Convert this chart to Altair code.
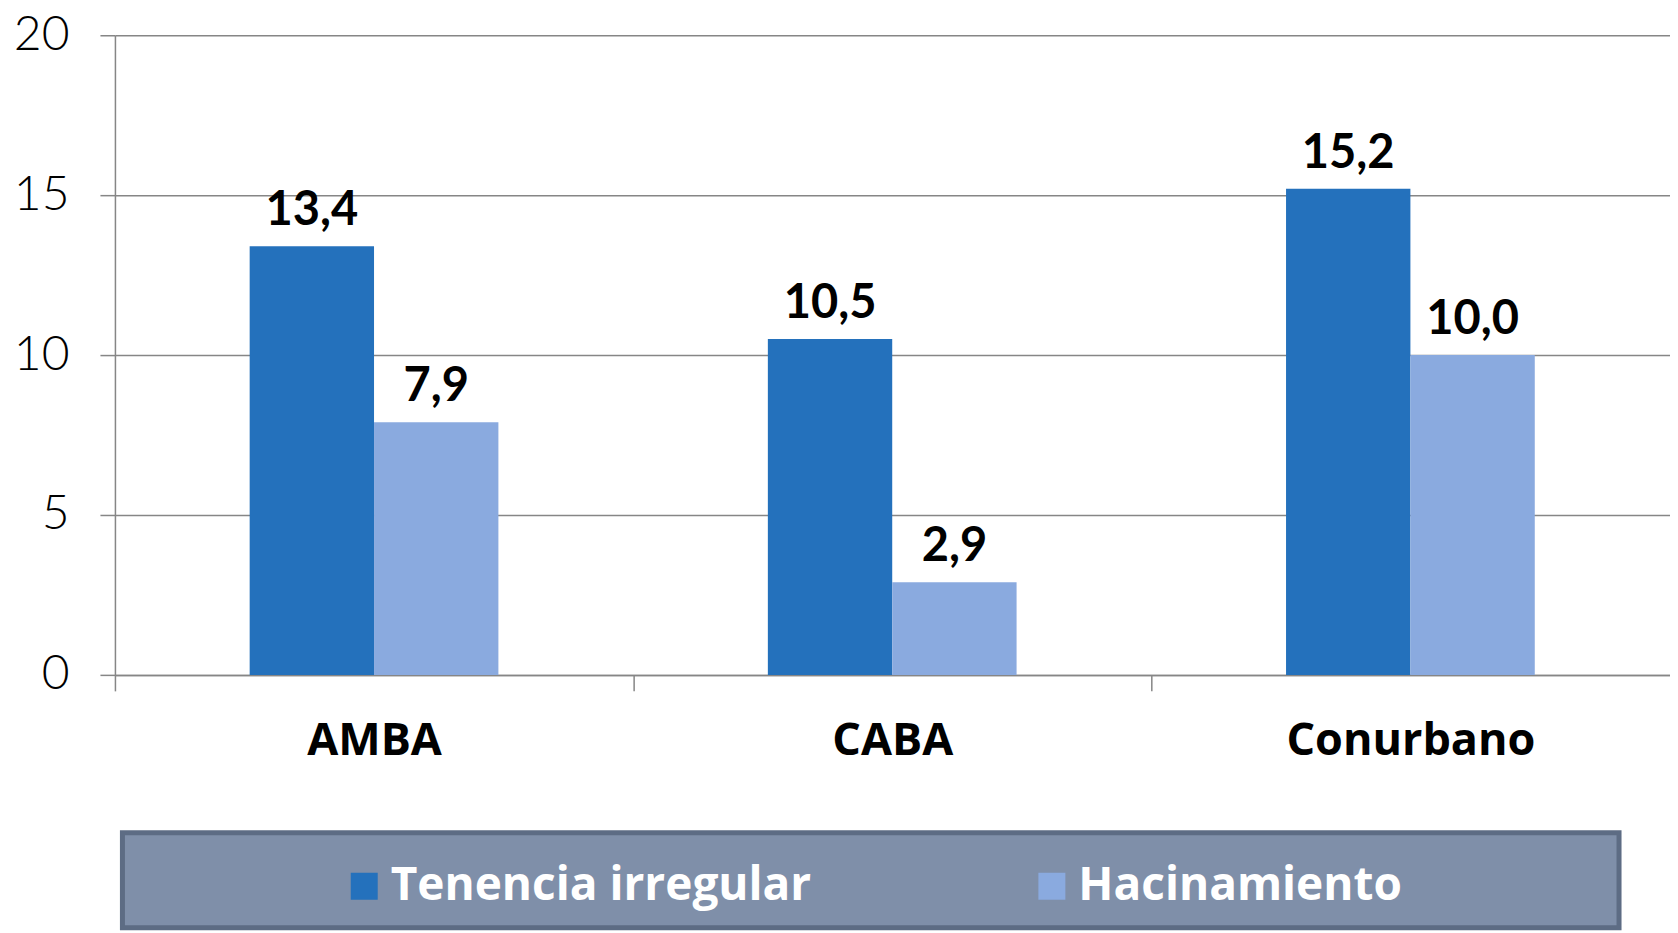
import altair as alt
import pandas as pd

categories = ["AMBA", "CABA", "Conurbano"]
series = ["Tenencia irregular", "Hacinamiento"]
tenencia = [13.4, 10.5, 15.2]
hacinamiento = [7.9, 2.9, 10.0]
y_ticks = [0, 5, 10, 15, 20]
colors = ["#2471BC", "#8AAADF"]

rows = []
for c, t, h in zip(categories, tenencia, hacinamiento):
    rows.append({"region": c, "serie": series[0], "valor": t})
    rows.append({"region": c, "serie": series[1], "valor": h})
df = pd.DataFrame(rows)
df["etiqueta"] = df["valor"].map(lambda v: f"{v:.1f}".replace(".", ","))

FONT = "Lato"
WFONT = "Open Sans"
GRAY = "#868686"
PLOT_W = 1555.5
HALF_STEP = PLOT_W / len(categories) / 2

x = alt.X(
    "region:N", sort=categories, title=None,
    scale=alt.Scale(paddingInner=0.52, paddingOuter=0.26),
    axis=alt.Axis(labelAngle=0, labelFont=WFONT, labelFontSize=45, labelFontWeight="bold",
                  labelColor="black", labelPadding=28, labelLimit=800, tickSize=16,
                  tickOffset=-HALF_STEP, labelOffset=HALF_STEP,
                  tickColor=GRAY, tickWidth=1.5, domainColor=GRAY, domainWidth=1.5, grid=False),
)
y = alt.Y(
    "valor:Q", title=None, scale=alt.Scale(domain=[0, 20], nice=False),
    axis=alt.Axis(values=y_ticks, labelFont=FONT, labelFontSize=48, labelFontWeight=300,
                  labelColor="black", labelPadding=31, tickSize=15, tickColor=GRAY, tickWidth=1.5,
                  grid=True, gridColor=GRAY, gridWidth=1.5, domainColor=GRAY, domainWidth=1.5,
                  minExtent=106.5, maxExtent=106.5),
)
xoff = alt.XOffset("serie:N", sort=series, scale=alt.Scale(paddingInner=0, paddingOuter=0))
color = alt.Color("serie:N", sort=series, scale=alt.Scale(domain=series, range=colors), legend=None)

bars = alt.Chart(df).mark_bar().encode(x=x, y=y, xOffset=xoff, color=color)
labels = alt.Chart(df).mark_text(
    dy=-21, baseline="alphabetic", font=FONT, fontSize=47, fontWeight="bold", color="black"
).encode(x=x, y=y, xOffset=xoff, text="etiqueta:N")
main = alt.layer(bars, labels).properties(width=PLOT_W, height=640)

leg_df = pd.DataFrame({"serie": series})
lx = alt.X("serie:N", sort=series, bandPosition=0, axis=None, title=None,
           scale=alt.Scale(type="band", domain=series, paddingInner=0.4876, paddingOuter=0.332))
squares = alt.Chart(leg_df).mark_square(size=729, xOffset=13.5, opacity=1, filled=True).encode(
    x=lx, y=alt.value(53.5),
    color=alt.Color("serie:N", sort=series, scale=alt.Scale(domain=series, range=colors), legend=None),
)
texts = alt.Chart(leg_df).mark_text(
    align="left", baseline="middle", dx=40, font=WFONT, fontSize=46, fontWeight="bold", color="white"
).encode(x=lx, y=alt.value(53.5), text="serie:N")
legend = alt.layer(squares, texts).properties(
    width=1497.5, height=95,
    view=alt.ViewBackground(fill="#7F8FA9", stroke="#5D6C84", strokeWidth=5),
)

# tiny invisible spacer shifting the legend box slightly to the right of the plot edge
spacer = alt.Chart(leg_df).mark_text(opacity=0, text="").properties(width=1, height=1)
legend_row = alt.hconcat(spacer, legend, spacing=3.5)

chart = (
    alt.vconcat(main, legend_row, spacing=62)
    .resolve_scale(x="independent", color="shared")
    .properties(padding={"top": 2, "left": 0, "right": 0, "bottom": 0})
    .configure_view(stroke="transparent")
)

chart.save("out.html", embed_options={"renderer": "svg", "actions": False})
